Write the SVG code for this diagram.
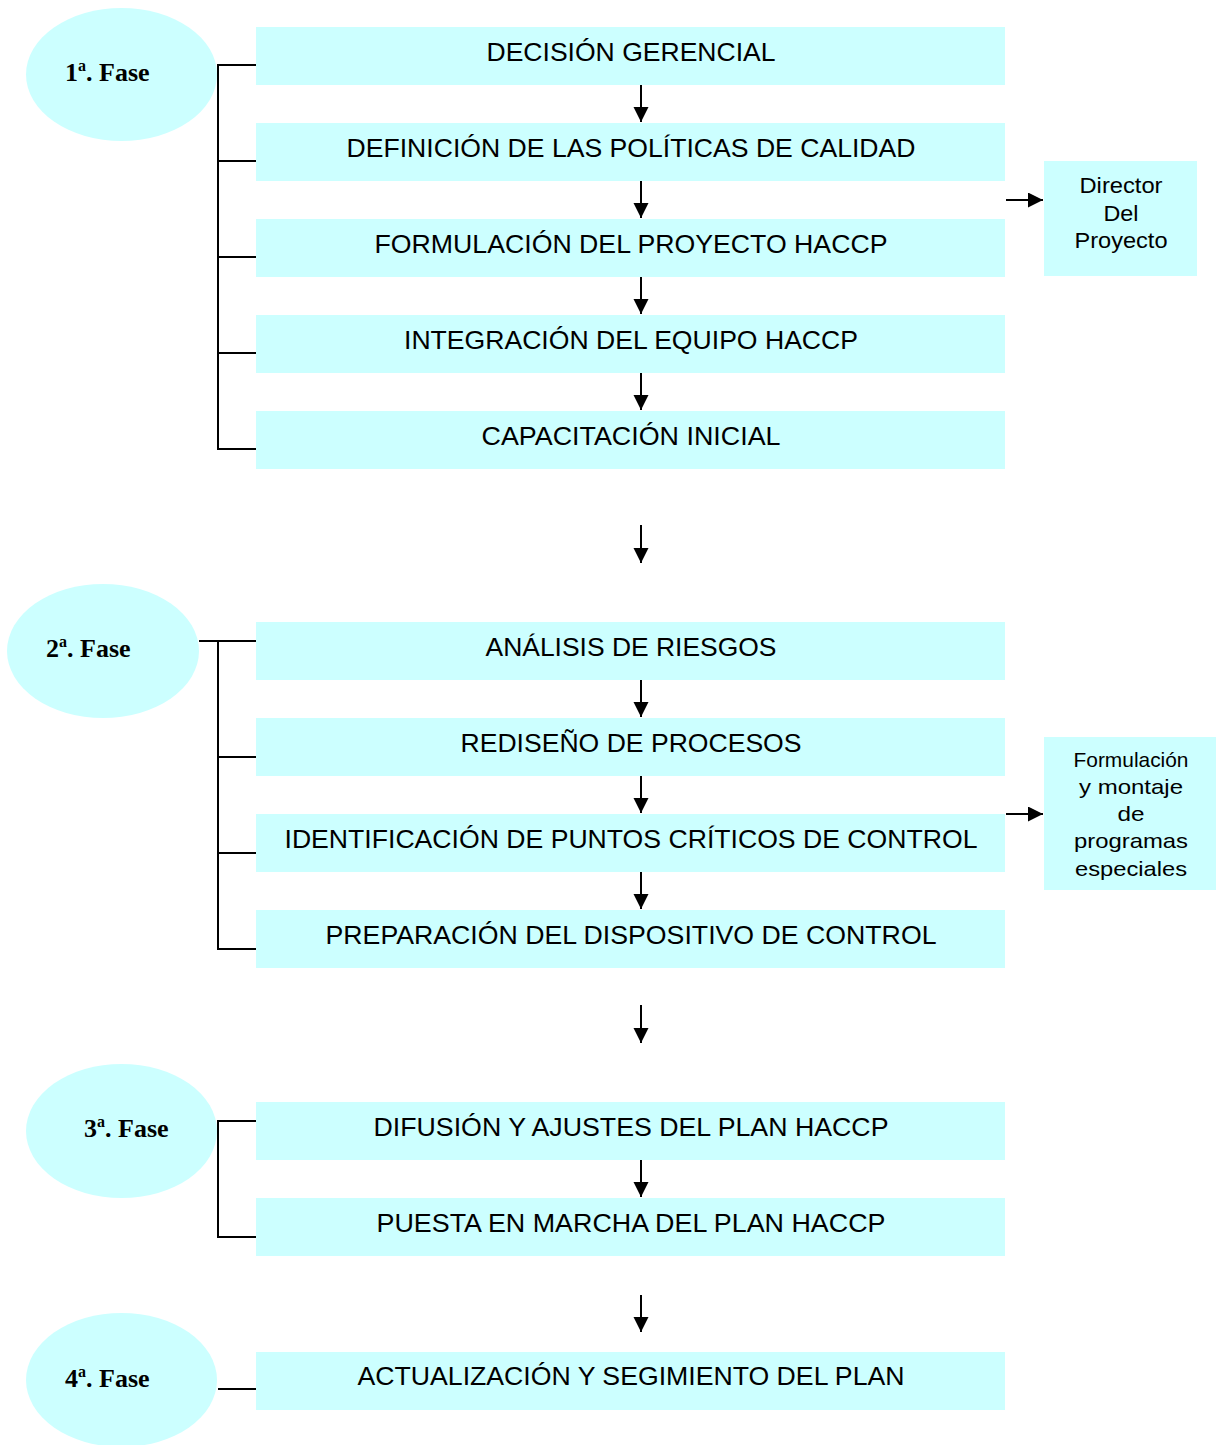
<svg xmlns="http://www.w3.org/2000/svg" width="1222" height="1445" viewBox="0 0 1222 1445">
<style>
.box{fill:#ccffff;}
.ell{fill:#ccffff;}
.t{font-family:"Liberation Sans",Arial,sans-serif;font-size:25px;fill:#000;text-anchor:middle;}
.s{font-family:"Liberation Sans",Arial,sans-serif;font-size:22px;fill:#000;text-anchor:middle;}
.s2{font-family:"Liberation Sans",Arial,sans-serif;font-size:21px;fill:#000;text-anchor:middle;}
.f{font-family:"Liberation Serif","Times New Roman",serif;font-size:26px;font-weight:bold;fill:#000;}
.sup{font-size:16px;}
.ln{stroke:#000;stroke-width:2;fill:none;}
</style>
<defs>
<marker id="ah" markerUnits="userSpaceOnUse" markerWidth="16" markerHeight="16" refX="15" refY="7.5" orient="auto">
<path d="M0,0 L15,7.5 L0,15 Z" fill="#000"/>
</marker>
</defs>

<g id="phase1">
<ellipse class="ell" cx="121.5" cy="74.5" rx="95.5" ry="66.5"/>
<text class="f" x="65" y="81">1<tspan class="sup" dy="-10">a</tspan><tspan dy="10">. Fase</tspan></text>
</g>
<g id="phase2">
<ellipse class="ell" cx="103" cy="651" rx="96" ry="67"/>
<text class="f" x="46" y="657">2<tspan class="sup" dy="-10">a</tspan><tspan dy="10">. Fase</tspan></text>
</g>
<g id="phase3">
<ellipse class="ell" cx="121.5" cy="1131" rx="95.5" ry="67"/>
<text class="f" x="84" y="1137">3<tspan class="sup" dy="-10">a</tspan><tspan dy="10">. Fase</tspan></text>
</g>
<g id="phase4">
<ellipse class="ell" cx="121.5" cy="1380" rx="95.5" ry="67"/>
<text class="f" x="65" y="1387">4<tspan class="sup" dy="-10">a</tspan><tspan dy="10">. Fase</tspan></text>
</g>

<g id="n1"><rect class="box" x="256" y="27" width="749" height="58"/><text class="t" x="631" y="61" textLength="289" lengthAdjust="spacingAndGlyphs">DECISIÓN GERENCIAL</text></g>
<g id="n2"><rect class="box" x="256" y="123" width="749" height="58"/><text class="t" x="631" y="157" textLength="569" lengthAdjust="spacingAndGlyphs">DEFINICIÓN DE LAS POLÍTICAS DE CALIDAD</text></g>
<g id="n3"><rect class="box" x="256" y="219" width="749" height="58"/><text class="t" x="631" y="253" textLength="513" lengthAdjust="spacingAndGlyphs">FORMULACIÓN DEL PROYECTO HACCP</text></g>
<g id="n4"><rect class="box" x="256" y="315" width="749" height="58"/><text class="t" x="631" y="349" textLength="454" lengthAdjust="spacingAndGlyphs">INTEGRACIÓN DEL EQUIPO HACCP</text></g>
<g id="n5"><rect class="box" x="256" y="411" width="749" height="58"/><text class="t" x="631" y="445" textLength="299" lengthAdjust="spacingAndGlyphs">CAPACITACIÓN INICIAL</text></g>

<g id="n6"><rect class="box" x="256" y="622" width="749" height="58"/><text class="t" x="631" y="656" textLength="291" lengthAdjust="spacingAndGlyphs">ANÁLISIS DE RIESGOS</text></g>
<g id="n7"><rect class="box" x="256" y="718" width="749" height="58"/><text class="t" x="631" y="752" textLength="341" lengthAdjust="spacingAndGlyphs">REDISEÑO DE PROCESOS</text></g>
<g id="n8"><rect class="box" x="256" y="814" width="749" height="58"/><text class="t" x="631" y="848" textLength="693" lengthAdjust="spacingAndGlyphs">IDENTIFICACIÓN DE PUNTOS CRÍTICOS DE CONTROL</text></g>
<g id="n9"><rect class="box" x="256" y="910" width="749" height="58"/><text class="t" x="631" y="944" textLength="611" lengthAdjust="spacingAndGlyphs">PREPARACIÓN DEL DISPOSITIVO DE CONTROL</text></g>

<g id="n10"><rect class="box" x="256" y="1102" width="749" height="58"/><text class="t" x="631" y="1136" textLength="515" lengthAdjust="spacingAndGlyphs">DIFUSIÓN Y AJUSTES DEL PLAN HACCP</text></g>
<g id="n11"><rect class="box" x="256" y="1198" width="749" height="58"/><text class="t" x="631" y="1232" textLength="509" lengthAdjust="spacingAndGlyphs">PUESTA EN MARCHA DEL PLAN HACCP</text></g>

<g id="n12"><rect class="box" x="256" y="1352" width="749" height="58"/><text class="t" x="631" y="1385" textLength="547" lengthAdjust="spacingAndGlyphs">ACTUALIZACIÓN Y SEGIMIENTO DEL PLAN</text></g>

<g id="side1"><rect class="box" x="1044" y="161" width="153" height="115"/>
<text class="s" x="1121" y="193" textLength="83" lengthAdjust="spacingAndGlyphs">Director</text>
<text class="s" x="1121" y="221" textLength="35" lengthAdjust="spacingAndGlyphs">Del</text>
<text class="s" x="1121" y="248" textLength="93" lengthAdjust="spacingAndGlyphs">Proyecto</text>
</g>
<g id="side2"><rect class="box" x="1044" y="737" width="172" height="153"/>
<text class="s2" x="1131" y="767" textLength="115" lengthAdjust="spacingAndGlyphs">Formulación</text>
<text class="s2" x="1131" y="794" textLength="104" lengthAdjust="spacingAndGlyphs">y montaje</text>
<text class="s2" x="1131" y="821" textLength="27" lengthAdjust="spacingAndGlyphs">de</text>
<text class="s2" x="1131" y="848" textLength="114" lengthAdjust="spacingAndGlyphs">programas</text>
<text class="s2" x="1131" y="876" textLength="112" lengthAdjust="spacingAndGlyphs">especiales</text>
</g>

<g id="connectors">
<polyline class="ln" points="256,65 218,65 218,449 256,449"/>
<line class="ln" x1="218" y1="161" x2="256" y2="161"/>
<line class="ln" x1="218" y1="257" x2="256" y2="257"/>
<line class="ln" x1="218" y1="353" x2="256" y2="353"/>

<line class="ln" x1="199" y1="641" x2="256" y2="641"/>
<polyline class="ln" points="218,641 218,949 256,949"/>
<line class="ln" x1="218" y1="757" x2="256" y2="757"/>
<line class="ln" x1="218" y1="853" x2="256" y2="853"/>

<polyline class="ln" points="256,1121 218,1121 218,1237 256,1237"/>

<line class="ln" x1="218" y1="1389" x2="256" y2="1389"/>

<line class="ln" x1="641" y1="85" x2="641" y2="122" marker-end="url(#ah)"/>
<line class="ln" x1="641" y1="181" x2="641" y2="218" marker-end="url(#ah)"/>
<line class="ln" x1="641" y1="277" x2="641" y2="314" marker-end="url(#ah)"/>
<line class="ln" x1="641" y1="373" x2="641" y2="410" marker-end="url(#ah)"/>
<line class="ln" x1="641" y1="525" x2="641" y2="563" marker-end="url(#ah)"/>
<line class="ln" x1="641" y1="680" x2="641" y2="717" marker-end="url(#ah)"/>
<line class="ln" x1="641" y1="776" x2="641" y2="813" marker-end="url(#ah)"/>
<line class="ln" x1="641" y1="872" x2="641" y2="909" marker-end="url(#ah)"/>
<line class="ln" x1="641" y1="1005" x2="641" y2="1043" marker-end="url(#ah)"/>
<line class="ln" x1="641" y1="1160" x2="641" y2="1197" marker-end="url(#ah)"/>
<line class="ln" x1="641" y1="1295" x2="641" y2="1332" marker-end="url(#ah)"/>
<line class="ln" x1="1006" y1="200" x2="1043" y2="200" marker-end="url(#ah)"/>
<line class="ln" x1="1006" y1="814" x2="1043" y2="814" marker-end="url(#ah)"/>
</g>
</svg>
